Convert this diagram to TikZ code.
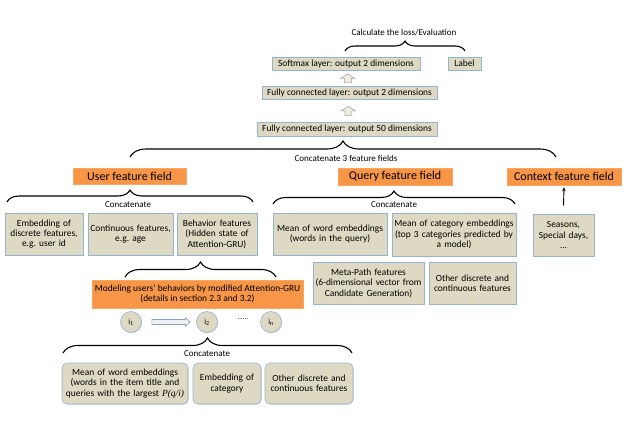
\documentclass[tikz,border=0pt]{standalone}
\usepackage{fontspec}
\setmainfont{Carlito}
\newfontfamily\serifit{Liberation Serif}
\usetikzlibrary{decorations.pathreplacing,shadows,arrows.meta,calc}
\definecolor{tan}{HTML}{DDD9C3}
\definecolor{bord}{HTML}{95B3D7}
\definecolor{orng}{HTML}{F79646}
\definecolor{arrfill}{HTML}{EEECE1}
\tikzset{
  tanbox/.style={draw=bord, fill=tan, line width=0.6pt, inner sep=1pt, align=center,
    font=\fontsize{9.4}{10.4}\selectfont, drop shadow={opacity=0.25,shadow xshift=0.8pt,shadow yshift=-0.8pt}},
  rbox/.style={tanbox, rounded corners=5pt},
  orbox/.style={fill=orng, draw=orng!85!white, inner sep=1pt, align=center,
    font=\fontsize{12}{13}\selectfont, drop shadow={opacity=0.2,shadow xshift=0.8pt,shadow yshift=-0.8pt}},
  itemc/.style={circle, draw=bord, fill=tan, line width=0.6pt, minimum size=21pt, inner sep=0pt,
    font=\fontsize{8}{9}\selectfont, drop shadow={opacity=0.25,shadow xshift=0.8pt,shadow yshift=-0.8pt}},
  mybrace/.style={decorate, decoration={brace, amplitude=#1}, line width=1.1pt},
  lbl/.style={font=\fontsize{9}{10}\selectfont, inner sep=0pt},
  blockarr/.style={draw=gray!75, fill=arrfill, line width=0.5pt},
  flowarr/.style={draw=bord!90!black, fill=gray!12, line width=0.6pt},
}
\begin{document}
\begin{tikzpicture}[x=1pt,y=-1pt]
\useasboundingbox (0,0) rectangle (628,436);
% top layers
\node[tanbox, minimum width=148pt, minimum height=13pt] (soft) at (346,63.5) {Softmax layer: output 2 dimensions};
\node[tanbox, minimum width=33pt, minimum height=13pt] (label) at (464.5,63.5) {Label};
\node[tanbox, minimum width=175pt, minimum height=13pt] (fc2) at (349.5,93) {Fully connected layer: output 2 dimensions};
\node[tanbox, minimum width=180pt, minimum height=14pt] (fc50) at (347,129) {Fully connected layer: output 50 dimensions};
\coordinate (ua1) at ($(soft.south)!0.5!(fc2.north)$);
\coordinate (ua2) at ($(fc2.south)!0.5!(fc50.north)$);
\draw[blockarr, shift={(ua1)}] (-3.5,4.5) -- (-3.5,0) -- (-7,0) -- (0,-4.5) -- (7,0) -- (3.5,0) -- (3.5,4.5) -- cycle;
\draw[blockarr, shift={(ua2)}] (-3.5,4.5) -- (-3.5,0) -- (-7,0) -- (0,-4.5) -- (7,0) -- (3.5,0) -- (3.5,4.5) -- cycle;
\coordinate (tb1) at (345,51);
\coordinate (tb2) at (465,51);
\draw[mybrace=10pt] (tb1) -- (tb2);
\node[lbl] (calc) at (404,33) {Calculate the loss/Evaluation};
% feature fields
\coordinate (bb1) at (130,157);
\coordinate (bb2) at (556,157);
\draw[mybrace=16pt] (bb1) -- (bb2);
\node[lbl] (cat3) at (346,158) {Concatenate 3 feature fields};
\node[orbox, minimum width=113pt, minimum height=16pt] (userF) at (129.5,176) {User feature field};
\node[orbox, minimum width=114pt, minimum height=17pt] (queryF) at (395,176.5) {Query feature field};
\node[orbox, minimum width=114pt, minimum height=17pt] (ctxF) at (564,176.5) {Context feature field};
% user features
\coordinate (ub1) at (7,202);
\coordinate (ub2) at (253,202);
\draw[mybrace=12pt] (ub1) -- (ub2);
\node[lbl] (ucat) at (128,205) {Concatenate};
\node[tanbox, minimum width=78pt, minimum height=42pt, text width=76pt] (u1) at (44,234) {Embedding of\\discrete features,\\e.g.\ user id};
\node[tanbox, minimum width=85pt, minimum height=42pt, text width=83pt] (u2) at (130.5,234) {Continuous features,\\e.g.\ age};
\node[tanbox, minimum width=80pt, minimum height=42pt, text width=78pt] (u3) at (217,234) {Behavior features\\(Hidden state of\\Attention-GRU)};
% query features
\coordinate (qb1) at (273,204);
\coordinate (qb2) at (515,204);
\draw[mybrace=13pt] (qb1) -- (qb2);
\node[lbl] (qcat) at (394,205) {Concatenate};
\node[tanbox, minimum width=114pt, minimum height=42pt, text width=112pt] (q1) at (330,234) {Mean of word embeddings\\(words in the query)};
\node[tanbox, minimum width=124pt, minimum height=43pt, text width=122pt] (q2) at (454,234.5) {Mean of category embeddings\\(top 3 categories predicted by\\a model)};
\node[tanbox, minimum width=111pt, minimum height=42pt, text width=109pt] (q3) at (368.5,283) {Meta-Path features\\(6-dimensional vector from\\Candidate Generation)};
\node[tanbox, minimum width=87pt, minimum height=42pt, text width=85pt] (q4) at (472.5,283) {Other discrete and\\continuous features};
% context
\node[tanbox, minimum width=61pt, minimum height=42pt, text width=59pt] (ctx) at (563.5,235) {Seasons,\\Special days,\\\dots};
\draw[-{Stealth[length=4pt,width=3.5pt]}, line width=0.9pt] ($(ctx.north)+(0,-8)$) coordinate (ctxa) -- ($(ctxF.south)+(0,2)$);
% behaviour model
\coordinate (mb1) at (125,277);
\coordinate (mb2) at (276,277);
\draw[mybrace=15pt] (mb1) -- (mb2);
\node[orbox, minimum width=211pt, minimum height=28pt, font=\fontsize{9.4}{10.6}\selectfont] (model) at (197.5,294) {Modeling users' behaviors by modified Attention-GRU\\(details in section 2.3 and 3.2)};
\node[itemc] (i1) at (131,322) {i\textsubscript{1}};
\node[itemc] (i2) at (207,322) {i\textsubscript{2}};
\node[itemc] (in) at (271,322) {i\textsubscript{n}};
\node[font=\fontsize{7}{8}\selectfont, inner sep=0pt] (dots) at (243,319) {......};
\coordinate (a12s) at ($(i1.east)+(10,0)$);
\coordinate (a12e) at ($(i2.west)+(-6,0)$);
\draw[flowarr] ($(a12s)+(0,-2.5)$) -- ($(a12e)+(-5,-2.5)$) -- ($(a12e)+(-5,-4.5)$) -- (a12e) -- ($(a12e)+(-5,4.5)$) -- ($(a12e)+(-5,2.5)$) -- ($(a12s)+(0,2.5)$) -- cycle;
% item features
\coordinate (ib1) at (63,353);
\coordinate (ib2) at (352,353);
\draw[mybrace=15pt] (ib1) -- (ib2);
\node[lbl] (icat) at (207,354) {Concatenate};
\node[rbox, minimum width=126pt, minimum height=41pt, text width=124pt] (b1) at (125,383.5) {Mean of word embeddings\\(words in the item title and\\queries with the largest {\serifit\itshape P(q/i)}};
\node[rbox, minimum width=68pt, minimum height=41pt, text width=66pt] (b2) at (227,383.5) {Embedding of\\category};
\node[rbox, minimum width=88pt, minimum height=41pt, text width=86pt] (b3) at (309,383.5) {Other discrete and\\continuous features};
\end{tikzpicture}
\end{document}
